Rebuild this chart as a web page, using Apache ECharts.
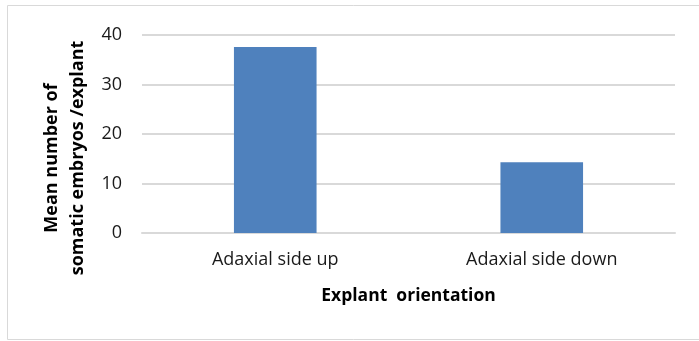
<!DOCTYPE html>
<html>
<head>
<meta charset="utf-8">
<script src="https://cdn.jsdelivr.net/npm/echarts@6/dist/echarts.min.js"></script>
<style>
  html, body { margin: 0; padding: 0; background: #fff; }
  #main { width: 699px; height: 341px; }
</style>
</head>
<body>
<div id="main"></div>
<script>
var categories = ['Adaxial side up', 'Adaxial side down'];
var embryos = [37.6, 14.3];
var yTicks = [0, 10, 20, 30, 40];

var myChart = echarts.init(document.getElementById('main'));

var option = {
    animation: false,
    textStyle: { fontFamily: 'Open Sans' },
    graphic: [{
        type: 'rect',
        shape: { x: 7.5, y: 5.5, width: 700, height: 334 },
        style: { fill: 'none', stroke: '#d9d9d9', lineWidth: 1 }
    }],
    grid: {
        left: 142,
        right: 24,
        top: 35,
        bottom: 108,
        outerBoundsMode: 'none'
    },
    xAxis: {
        type: 'category',
        data: categories,
        name: 'Explant  orientation',
        nameLocation: 'middle',
        nameGap: 54,
        nameTextStyle: { fontSize: 17.5, fontWeight: 'bold', color: '#000' },
        axisLine: { lineStyle: { color: '#d9d9d9', width: 2 } },
        axisTick: { show: false },
        axisLabel: { fontSize: 18, color: '#1a1a1a', margin: 18 }
    },
    yAxis: {
        type: 'value',
        min: yTicks[0],
        max: yTicks[yTicks.length - 1],
        interval: 10,
        name: 'Mean number of\nsomatic embryos /explant',
        nameLocation: 'middle',
        nameRotate: 90,
        nameGap: 47,
        nameTextStyle: { fontSize: 18, fontWeight: 'bold', color: '#000', lineHeight: 26, padding: [0, 48, 0, 0] },
        axisLine: { show: false },
        axisTick: { show: false },
        axisLabel: { fontSize: 18, color: '#1a1a1a', margin: 20 },
        splitLine: { lineStyle: { color: '#d9d9d9', width: 2 } }
    },
    series: [{
        name: 'Embryos',
        type: 'bar',
        data: embryos,
        barWidth: '31%',
        itemStyle: { color: '#4f81bd' }
    }]
};

myChart.setOption(option);
</script>
</body>
</html>
